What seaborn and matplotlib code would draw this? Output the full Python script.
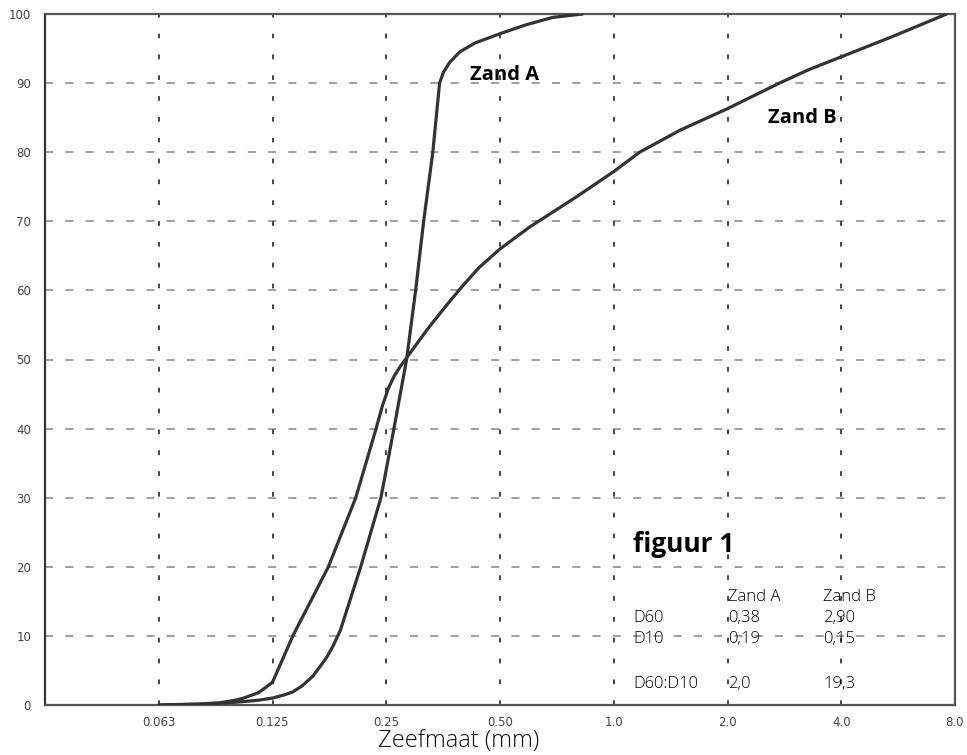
import matplotlib
matplotlib.use("Agg")
import matplotlib.pyplot as plt
import seaborn as sns
import pandas as pd
from matplotlib.ticker import FixedLocator, FixedFormatter, NullLocator

# ---- data ----
zand_a_size = [0.0625, 0.08, 0.1, 0.115, 0.125, 0.135, 0.1415, 0.15, 0.160, 0.1735,
               0.181, 0.189, 0.20, 0.214, 0.242, 0.262, 0.283, 0.299, 0.314, 0.332,
               0.346, 0.3545, 0.368, 0.391, 0.429, 0.503, 0.583, 0.688, 0.827]
zand_a_pct = [0.0, 0.1, 0.4, 0.7, 1.0, 1.5, 1.9, 2.8, 4.2, 6.8,
              8.6, 10.8, 15.0, 20.0, 30.0, 40.0, 50.0, 60.0, 70.0, 80.0,
              90.0, 91.6, 93.0, 94.5, 95.8, 97.2, 98.4, 99.5, 100.0]

zand_b_size = [0.0625, 0.08, 0.09, 0.1, 0.1048, 0.115, 0.125, 0.1415, 0.1757, 0.2076,
               0.2209, 0.235, 0.2439, 0.2531, 0.2624, 0.2724, 0.2844, 0.3005, 0.3195, 0.346,
               0.368, 0.396, 0.44, 0.5, 0.6, 0.8, 1.0, 1.171, 1.5, 2.0,
               2.744, 3.3, 4.0, 5.5, 7.6]
zand_b_pct = [0.0, 0.15, 0.3, 0.7, 1.0, 1.8, 3.3, 10.0, 20.0, 30.0,
              35.0, 40.0, 43.2, 45.8, 47.6, 49.0, 50.4, 52.2, 54.2, 56.6,
              58.4, 60.5, 63.3, 66.0, 69.2, 73.6, 77.2, 80.0, 83.2, 86.3,
              90.0, 92.0, 93.8, 96.8, 100.0]

x_ticks = [0.0625, 0.125, 0.25, 0.5, 1.0, 2.0, 4.0, 8.0]
x_tick_labels = ["0.063", "0.125", "0.25", "0.50", "1.0", "2.0", "4.0", "8.0"]
y_ticks = [0, 10, 20, 30, 40, 50, 60, 70, 80, 90, 100]

series_names = ["Zand A", "Zand B"]
table_header = ["Zand A", "Zand B"]
table_rows = ["D60", "D10", "", "D60:D10"]
table_a = ["0,38", "0,19", "", "2,0"]
table_b = ["2,90", "0,15", "", "19,3"]

df = pd.concat([
    pd.DataFrame({"size": zand_a_size, "pct": zand_a_pct, "zand": series_names[0]}),
    pd.DataFrame({"size": zand_b_size, "pct": zand_b_pct, "zand": series_names[1]}),
], ignore_index=True)

# ---- style ----
sns.set_style("white")
plt.rcParams["font.family"] = ["Open Sans", "DejaVu Sans"]
plt.rcParams["lines.scale_dashes"] = False

W, H = 967, 755
fig = plt.figure(figsize=(W / 100, H / 100), dpi=100)
ax = fig.add_axes([45 / W, 50 / H, 910 / W, 691 / H])

sns.lineplot(data=df, x="size", y="pct", hue="zand", units="zand", estimator=None,
             palette=["#333333", "#333333"], linewidth=2.3, legend=False, ax=ax,
             zorder=3)
for ln in ax.lines:
    ln.set_solid_joinstyle("round")

ax.set_xscale("log", base=2)
ax.set_xlim(0.03125, 8.0)
ax.set_ylim(0, 100)
ax.xaxis.set_major_locator(FixedLocator(x_ticks))
ax.xaxis.set_major_formatter(FixedFormatter(x_tick_labels))
ax.xaxis.set_minor_locator(NullLocator())
ax.set_yticks(y_ticks)
ax.set_yticklabels([str(v) for v in y_ticks])

# grid
for y in y_ticks[1:-1]:
    ax.axhline(y, color="#8f8f8f", lw=1.2, linestyle=(0, (5.8, 8.8)), zorder=1)
for x in x_ticks[:-1]:
    ax.axvline(x, color="#444444", lw=1.4, linestyle=(0, (3.4, 11.6)), zorder=1)

for side, sp in ax.spines.items():
    sp.set_visible(True)
    sp.set_linewidth(1.6)
    sp.set_color("#555555")
ax.spines["left"].set_color("#333333")

ax.tick_params(axis="both", length=0, labelsize=8.5, labelcolor="#444444")
ax.tick_params(axis="y", pad=10)
ax.tick_params(axis="x", pad=8)
for lab in ax.get_xticklabels() + ax.get_yticklabels():
    lab.set_family(["DejaVu Sans"])

ax.set_ylabel("")
ax.set_xlabel("Zeefmaat (mm)", fontsize=17, fontweight="light", color="#111111", va="center")
ax.xaxis.set_label_coords((459 - 45) / 910, (705 - 741) / 691)

def fx(px):
    return px / W

def fy(py):
    return 1 - py / H

fig.text(fx(470), fy(75), series_names[0], fontsize=14.5, fontweight="bold", va="center",
         color="black")
fig.text(fx(768), fy(118), series_names[1], fontsize=14.5, fontweight="bold", va="center",
         color="black")
fig.text(fx(633), fy(544), "figuur 1", fontsize=19, fontweight="bold", va="center",
         color="black")

tkw = dict(fontsize=12, fontweight="light", va="center", color="black")
fig.text(fx(728), fy(597), table_header[0], **tkw)
fig.text(fx(823), fy(597), table_header[1], **tkw)
row_y = [618, 639, 661, 684]
for r, a, b, yy in zip(table_rows, table_a, table_b, row_y):
    if r:
        fig.text(fx(633), fy(yy), r, **tkw)
        fig.text(fx(728), fy(yy), a, **tkw)
        fig.text(fx(823), fy(yy), b, **tkw)

fig.savefig("out.png", dpi=100, facecolor="white")
